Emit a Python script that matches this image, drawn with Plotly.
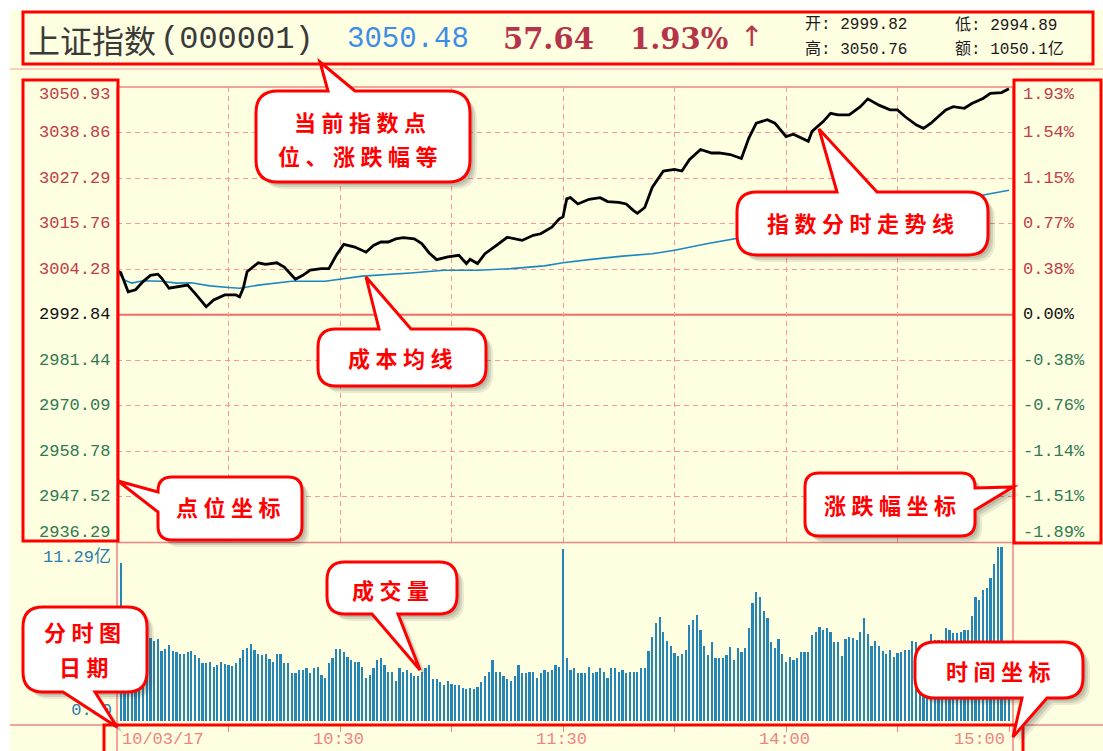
import plotly.graph_objects as go

# ---------------- data ----------------
prev_close = 2992.84
axis_top = 3050.93
left_labels = ["3050.93", "3038.86", "3027.29", "3015.76", "3004.28", "2992.84",
               "2981.44", "2970.09", "2958.78", "2947.52", "2936.29"]
right_labels = ["1.93%", "1.54%", "1.15%", "0.77%", "0.38%", "0.00%",
                "-0.38%", "-0.76%", "-1.14%", "-1.51%", "-1.89%"]
label_kind = ["up"] * 5 + ["flat"] + ["down"] * 5

price_minutes = [0, 1, 3, 5, 7, 9, 11, 12, 14, 17, 19, 21, 24, 26, 29, 32, 33, 34, 35, 38,
                 40, 43, 45, 48, 50, 52, 55, 57, 59, 61, 64, 67, 69, 71, 73, 75, 77, 80, 82, 84,
                 86, 89, 92, 94, 95, 97, 99, 102, 105, 109, 112, 114, 117, 119, 120, 121, 122, 124, 127, 130,
                 132, 135, 137, 139, 140, 142, 144, 147, 150, 152, 154, 157, 160, 162, 165, 168, 170, 172, 175, 177,
                 180, 182, 184, 186, 187, 190, 192, 194, 197, 200, 202, 205, 208, 210, 212, 215, 217, 219, 221, 223,
                 225, 228, 230, 233, 235, 238, 240]
price_values = [3004.0, 3003.6, 2998.7, 2999.2, 3001.3, 3002.9, 3003.2, 3002.2, 2999.6, 3000.0,
                3000.4, 2998.3, 2994.9, 2996.6, 2997.9, 2997.9, 2997.4, 2999.7, 3003.8, 3006.1,
                3005.7, 3006.1, 3005.0, 3001.9, 3002.9, 3004.2, 3004.6, 3004.6, 3008.0, 3010.8,
                3010.1, 3008.8, 3010.5, 3011.4, 3011.4, 3012.2, 3012.5, 3012.2, 3011.0, 3008.6,
                3006.9, 3007.6, 3008.0, 3005.9, 3007.0, 3005.9, 3008.4, 3010.5, 3012.6, 3011.8,
                3013.1, 3013.5, 3015.2, 3017.3, 3017.8, 3022.4, 3022.7, 3021.1, 3022.3, 3022.7,
                3021.7, 3021.5, 3021.1, 3019.4, 3018.7, 3020.2, 3025.3, 3029.5, 3029.9, 3029.5,
                3032.4, 3035.0, 3034.1, 3034.1, 3033.7, 3032.7, 3037.9, 3041.7, 3042.6, 3041.7,
                3038.3, 3038.9, 3037.9, 3037.1, 3039.6, 3042.1, 3044.2, 3043.8, 3043.8, 3045.9,
                3047.9, 3046.3, 3045.1, 3045.1, 3043.4, 3041.3, 3040.4, 3041.7, 3043.4, 3045.1,
                3045.9, 3045.5, 3046.7, 3048.0, 3049.3, 3049.5, 3050.48]

avg_minutes = [0, 2, 4, 7, 12, 16, 20, 25, 30, 33, 38, 47, 56, 61, 66, 79, 88, 97, 106, 115,
               120, 127, 136, 144, 150, 159, 166, 180, 210, 232, 240]
avg_values = [3004.0, 3001.7, 3000.9, 3001.5, 3001.4, 3000.9, 3001.0, 3000.2, 2999.8, 2999.6,
              3000.4, 3001.4, 3001.4, 3002.1, 3002.7, 3003.5, 3004.2, 3004.2, 3004.6, 3005.3,
              3006.1, 3006.9, 3007.8, 3008.4, 3009.3, 3011.0, 3012.2, 3014.6, 3019.6, 3023.2, 3024.6]

# volume (亿) per minute, 9:31 ... 15:00
volume = [10.17,
          6.5, 6.8, 6.3, 6.0, 5.9, 5.7,
          5.44, 5.33, 5.16, 5.29, 4.52, 4.65, 4.90, 4.52, 4.43, 4.30,
          4.30, 4.43, 4.52, 4.26, 4.08, 3.72, 3.72, 3.83, 3.50, 3.61,
          3.83, 3.66, 3.61, 3.57, 3.72, 4.05, 4.58, 4.73, 4.95, 4.58,
          4.30, 4.26, 4.30, 4.00, 3.83, 4.30, 4.30, 3.72, 3.72, 3.08,
          3.08, 3.29, 3.29, 3.40, 3.08, 3.40, 3.50, 2.97, 2.79, 3.72,
          4.05, 4.65, 4.65, 4.43, 4.15, 3.94, 3.83, 3.79, 3.50, 2.75,
          2.97, 3.40, 3.94, 4.05, 3.61, 3.18, 3.18, 2.58, 3.40, 3.18,
          3.29, 3.08, 2.92, 2.92, 3.18, 3.40, 3.61, 2.71, 2.71, 2.54,
          2.32, 2.58, 2.37, 2.32, 2.32, 2.15, 2.06, 2.15, 2.06, 2.21,
          2.49, 2.92, 3.18, 3.94, 3.18, 3.18, 2.92, 2.71, 2.58, 2.92,
          3.61, 3.08, 3.08, 3.18, 3.18, 2.79, 3.08, 3.29, 3.18, 3.29,
          3.61, 3.50,
          11.10,
          4.05, 3.29, 3.40, 3.08, 3.08, 3.08, 3.50, 3.08, 3.18, 3.40,
          3.18, 2.79, 3.40, 3.40, 3.18, 3.29, 3.08, 3.18, 3.18, 3.18,
          3.40, 3.40, 4.52, 5.44, 6.30, 6.73, 5.76, 5.16, 4.86, 4.37,
          4.21, 4.30, 4.58, 6.19, 6.52, 6.84, 5.87, 4.86, 4.26, 5.08,
          4.05, 4.05, 4.05, 4.26, 4.80, 3.94,
          4.73, 4.43, 4.73, 5.98, 7.59, 8.34, 8.02, 7.10, 6.67, 5.08,
          4.73, 5.29, 4.30, 3.83, 4.15, 3.94, 4.05, 4.43, 4.43, 4.43,
          5.55, 5.72, 6.09, 5.87, 5.98, 5.72, 5.08, 5.08, 4.21, 5.29,
          5.44, 5.33, 5.23, 5.72, 6.67, 5.59, 4.86, 5.16, 4.86, 4.52,
          4.30, 4.58, 4.15, 4.37, 4.47, 4.58, 4.58, 5.16,
          5.1, 4.8, 4.8, 4.9, 5.6, 5.2, 5.2, 5.2, 6.0, 5.9,
          5.7, 5.7, 5.75, 5.85, 5.9, 6.8, 8.0, 7.8, 8.45, 8.55,
          9.2, 10.1, 11.25, 11.25, 4.5, 4.0]
volume_max_label = "11.29亿"
volume_zero_label = "0.00"

grid_minutes = [30, 60, 90, 120, 150, 180, 210]
tick_minutes = [30, 60, 90, 120, 150, 180, 210, 240]
time_label_minutes = [0, 60, 120, 180, 240]
time_labels = ["10/03/17", "10:30", "11:30", "14:00", "15:00"]

stock_name = "上证指数"
stock_code = "(000001)"
last_price = "3050.48"
change = "57.64"
change_pct = "1.93%"
info_open = "开: 2999.82"
info_high = "高: 3050.76"
info_low = "低: 2994.89"
info_amount = "额: 1050.1亿"

callout_texts = {
    "index": ["当前指数点", "位、涨跌幅等"],
    "avg": ["成本均线"],
    "trend": ["指数分时走势线"],
    "pts": ["点位坐标"],
    "pct": ["涨跌幅坐标"],
    "vol": ["成交量"],
    "date": ["分时图", "日期"],
    "time": ["时间坐标"],
}

# ---------------- styling / geometry ----------------
W, H = 1103, 751
L, T, R, B = 117, 87, 1013, 725          # pixel frame of the paper area
PANEL_SPLIT = 542.5                        # price / volume divider
VOL_TOP = 544
X_MAX = (R - L) / ((1009 - L) / 240.0)     # minutes at right border

BG = "#FEFEE1"
GRID = "#FF9494"
BORDER = "#F08484"
RED = "#FF0000"
UP = "#BE3C48"
DOWN = "#2F7A52"
FLAT = "#111111"
VOLC = "#2485B6"
AVGC = "#1C88C0"
MONO = "Liberation Mono, DejaVu Sans Mono, Noto Sans CJK SC"
CJK = "Noto Sans CJK SC"


def px(x):
    return (x - L) / (R - L)


def py(y):
    return (B - y) / (B - T)


step = (axis_top - prev_close) / 5.0
grid_levels = [prev_close + k * step for k in range(5, -6, -1)]
y_min, y_max = grid_levels[-1], grid_levels[0]

vol_scale = (721 - 546) / 11.29
v_lo = -(B - 721) / vol_scale
v_hi = (721 - VOL_TOP) / vol_scale
zero_label_pos = (721 - 709) / vol_scale   # where the "0.00" caption sits

fig = go.Figure()
fig.add_trace(go.Scatter(x=avg_minutes, y=avg_values, mode="lines",
                         line=dict(color=AVGC, width=1.6), xaxis="x", yaxis="y",
                         hoverinfo="skip"))
fig.add_trace(go.Scatter(x=price_minutes, y=price_values, mode="lines",
                         line=dict(color="#000000", width=2.8), xaxis="x", yaxis="y",
                         hoverinfo="skip"))
fig.add_trace(go.Bar(x=list(range(1, len(volume) + 1)), y=volume, xaxis="x2", yaxis="y2",
                     marker=dict(color=VOLC, line=dict(width=0)), width=0.6,
                     hoverinfo="skip"))

shapes = []
annotations = []

# white margin strips
shapes.append(dict(type="rect", xref="paper", yref="paper", x0=px(0), x1=px(10), y0=py(0), y1=py(W),
                   fillcolor="white", line=dict(width=0), layer="below"))
shapes.append(dict(type="rect", xref="paper", yref="paper", x0=px(0), x1=px(W), y0=py(0), y1=py(10),
                   fillcolor="white", line=dict(width=0), layer="below"))


def hline(y, x0, x1, color, width, dash="solid", layer="between"):
    shapes.append(dict(type="line", xref="paper", yref="paper", x0=px(x0), x1=px(x1),
                       y0=py(y), y1=py(y), line=dict(color=color, width=width, dash=dash), layer=layer))


def vline(x, y0, y1, color, width, layer="between"):
    shapes.append(dict(type="line", xref="paper", yref="paper", x0=px(x), x1=px(x),
                       y0=py(y0), y1=py(y1), line=dict(color=color, width=width), layer=layer))


# frame lines
hline(69, 10, W, "#F5A0A0", 1)
hline(T, L, R, BORDER, 1.5)
hline(PANEL_SPLIT, L, R, BORDER, 1.5)
hline(B, 10, W, BORDER, 1.5)
vline(L, T, H + 5, BORDER, 1.5)
vline(R, T, H + 5, BORDER, 1.5)
# zero (previous close) line
shapes.append(dict(type="line", xref="paper", yref="y", x0=0, x1=1, y0=prev_close, y1=prev_close,
                   line=dict(color="#F06C6C", width=2), layer="between"))


# red highlight rectangles
def red_rect(x0, y0, x1, y1):
    shapes.append(dict(type="rect", xref="paper", yref="paper", x0=px(x0), x1=px(x1),
                       y0=py(y0), y1=py(y1), line=dict(color=RED, width=3),
                       fillcolor="rgba(0,0,0,0)", layer="above"))


red_rect(23, 12, 1093, 64)
red_rect(23, 80, 118, 541)
red_rect(1014, 80, 1101, 543)
red_rect(104, 725, 1023, 760)


def callout_path(x0, y0, x1, y1, r, side, a, b, tip, dx=0.0, dy=0.0):
    tx, ty = tip

    def P(x, y):
        return f"{px(x + dx):.5f},{py(y + dy):.5f}"

    s = f"M{P(x0 + r, y0)}"
    if side == "top":
        s += f" L{P(a, y0)} L{P(tx, ty)} L{P(b, y0)}"
    s += f" L{P(x1 - r, y0)} Q{P(x1, y0)} {P(x1, y0 + r)}"
    if side == "right":
        s += f" L{P(x1, a)} L{P(tx, ty)} L{P(x1, b)}"
    s += f" L{P(x1, y1 - r)} Q{P(x1, y1)} {P(x1 - r, y1)}"
    if side == "bottom":
        s += f" L{P(b, y1)} L{P(tx, ty)} L{P(a, y1)}"
    s += f" L{P(x0 + r, y1)} Q{P(x0, y1)} {P(x0, y1 - r)}"
    if side == "left":
        s += f" L{P(x0, b)} L{P(tx, ty)} L{P(x0, a)}"
    s += f" L{P(x0, y0 + r)} Q{P(x0, y0)} {P(x0 + r, y0)} Z"
    return s


callouts = [
    # key, box, radius, tail side, base a, base b, tip, text centres
    ("index", (256, 91, 470, 182), 22, "top", 328, 355, (320, 62), [(360, 121), (358, 155)]),
    ("avg", (318, 329, 486, 386), 18, "top", 379, 411, (366, 277), [(400, 357)]),
    ("trend", (737, 192, 988, 255), 20, "top", 837, 877, (819, 129), [(860, 222)]),
    ("pts", (158, 477, 302, 540), 14, "left", 492, 512, (118, 481), [(228, 506)]),
    ("pct", (805, 473, 975, 536), 14, "right", 488, 510, (1013, 487), [(890, 504)]),
    ("vol", (327, 562, 457, 614), 18, "bottom", 372, 398, (420, 670), [(390, 589)]),
    ("date", (23, 607, 147, 692), 20, "bottom", 63, 95, (117, 727), [(82, 631), (84, 666)]),
    ("time", (915, 642, 1083, 698), 20, "bottom", 1022, 1047, (1013, 737), [(998, 670)]),
]

for key, (x0, y0, x1, y1), r, side, a, b, tip, centres in callouts:
    for off, alpha in ((7, 0.10), (5, 0.14), (3, 0.16)):
        shapes.append(dict(type="path", xref="paper", yref="paper",
                           path=callout_path(x0, y0, x1, y1, r, side, a, b, tip, off, off),
                           fillcolor=f"rgba(60,60,60,{alpha})", line=dict(width=0), layer="above"))
    shapes.append(dict(type="path", xref="paper", yref="paper",
                       path=callout_path(x0, y0, x1, y1, r, side, a, b, tip),
                       fillcolor="white", line=dict(color=RED, width=3), layer="above"))
    for (cx, cy), line in zip(centres, callout_texts[key]):
        annotations.append(dict(xref="paper", yref="paper", x=px(cx), y=py(cy),
                                text="<b>" + "\u2005".join(line) + "</b>", showarrow=False,
                                xanchor="center", yanchor="middle",
                                font=dict(family=CJK, size=22, color=RED)))

# price axis labels
kind_color = {"up": UP, "down": DOWN, "flat": FLAT}
n = len(left_labels)
for i, (lv, rv, kd) in enumerate(zip(left_labels, right_labels, label_kind)):
    shift = -7.5 if i == 0 else (10.5 if i == n - 1 else 0)
    annotations.append(dict(xref="paper", yref="y", x=px(112), y=grid_levels[i], yshift=shift,
                            text=lv, showarrow=False, xanchor="right", yanchor="middle",
                            font=dict(family=MONO, size=17, color=kind_color[kd])))
    annotations.append(dict(xref="paper", yref="y", x=px(1021), y=grid_levels[i], yshift=shift,
                            text=rv, showarrow=False, xanchor="left", yanchor="middle",
                            font=dict(family=MONO, size=17, color=kind_color[kd])))

annotations.append(dict(xref="paper", yref="paper", x=px(113), y=py(557), text=volume_max_label,
                        showarrow=False, xanchor="right", yanchor="middle",
                        font=dict(family=MONO, size=17, color="#2A7BB0")))

# time labels
for m, lab in zip(time_label_minutes, time_labels):
    anchor = "left" if m == time_label_minutes[0] else ("right" if m == time_label_minutes[-1] else "center")
    xs = 3 if anchor == "left" else -2
    annotations.append(dict(xref="x2", yref="paper", x=m, xshift=xs, y=py(739), text=lab,
                            showarrow=False, xanchor=anchor, yanchor="middle",
                            font=dict(family=MONO, size=17, color="#F08282")))

# header
hy = py(39)
RED_TXT = "#B5344A"
annotations += [
    dict(xref="paper", yref="paper", x=px(26), y=hy, text=stock_name, showarrow=False,
         xanchor="left", yanchor="middle", font=dict(family=CJK, size=32, color="#3A3A3A")),
    dict(xref="paper", yref="paper", x=px(158), y=hy, text=stock_code, showarrow=False,
         xanchor="left", yanchor="middle", font=dict(family=MONO, size=32, color="#3A3A3A")),
    dict(xref="paper", yref="paper", x=px(345), y=hy, text=last_price, showarrow=False,
         xanchor="left", yanchor="middle", font=dict(family=MONO, size=29, color="#3D8DE8")),
    dict(xref="paper", yref="paper", x=px(501), y=hy, text="<b>" + change + "</b>", showarrow=False,
         xanchor="left", yanchor="middle", font=dict(family="DejaVu Serif", size=29, color=RED_TXT)),
    dict(xref="paper", yref="paper", x=px(628), y=hy, text="<b>" + change_pct + "</b>", showarrow=False,
         xanchor="left", yanchor="middle", font=dict(family="DejaVu Serif", size=29, color=RED_TXT)),
    dict(xref="paper", yref="paper", x=px(751), y=py(37), text="↑", showarrow=False,
         xanchor="center", yanchor="middle", font=dict(family="DejaVu Sans", size=28, color=RED_TXT)),
]
for txt, xl, yc in ((info_open, 803, 25), (info_low, 953, 25), (info_high, 803, 49), (info_amount, 953, 49)):
    annotations.append(dict(xref="paper", yref="paper", x=px(xl), y=py(yc), text=txt, showarrow=False,
                            xanchor="left", yanchor="middle",
                            font=dict(family=MONO, size=16, color="#1A1A1A")))

fig.update_layout(
    width=W, height=H, autosize=False,
    margin=dict(l=L, r=W - R, t=T, b=H - B, pad=0),
    paper_bgcolor=BG, plot_bgcolor=BG,
    showlegend=False, bargap=0,
    xaxis=dict(domain=[0, 1], range=[0, X_MAX], anchor="y", tickvals=grid_minutes,
               showgrid=True, gridcolor=GRID, gridwidth=1, griddash="5px,4px",
               showticklabels=False, ticks="", zeroline=False, showline=False, fixedrange=True),
    yaxis=dict(domain=[py(PANEL_SPLIT), 1], range=[y_min, y_max], anchor="x",
               tickvals=[g for g in grid_levels[1:-1] if abs(g - prev_close) > 1e-6],
               showgrid=True, gridcolor=GRID, gridwidth=1, griddash="5px,4px",
               showticklabels=False, ticks="", zeroline=False, showline=False, fixedrange=True),
    xaxis2=dict(domain=[0, 1], range=[0, X_MAX], anchor="y2", matches="x", tickvals=tick_minutes,
                ticks="outside", ticklen=6, tickcolor=BORDER, tickwidth=1, showticklabels=False,
                showgrid=False, zeroline=False, showline=False, fixedrange=True),
    yaxis2=dict(domain=[0, py(VOL_TOP)], range=[v_lo, v_hi], anchor="x2",
                tickvals=[zero_label_pos], ticktext=[volume_zero_label], ticks="",
                ticklabelstandoff=4,
                tickfont=dict(family=MONO, size=17, color="#2A7BB0"),
                showgrid=False, zeroline=False, showline=False, fixedrange=True),
    shapes=shapes,
    annotations=annotations,
)

fig.write_html("out.html",
               config={"displayModeBar": False, "staticPlot": True},
               post_script="document.body.style.margin='0px';document.body.style.overflow='hidden';")
